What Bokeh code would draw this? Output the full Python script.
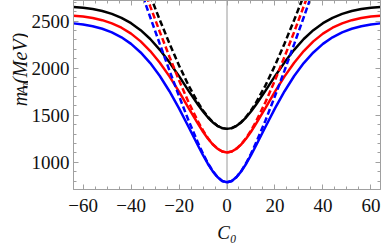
import math
from bokeh.plotting import figure
from bokeh.layouts import row
from bokeh.models import FixedTicker, LinearAxis, Span, Label, Range1d, CustomJSTickFormatter
from bokeh.embed import file_html
from bokeh.resources import INLINE

# ---- data ----
c0_solid = [-64, -60, -56, -52, -48, -44, -40, -36, -32, -28, -24, -20, -16, -12, -10, -8, -6, -4, -2, 0,
            2, 4, 6, 8, 10, 12, 16, 20, 24, 28, 32, 36, 40, 44, 48, 52, 56, 60, 64]
m_black_solid = [2650, 2641, 2628, 2607, 2577, 2535, 2478, 2404, 2310, 2195, 2062, 1915, 1759, 1608, 1539, 1478, 1426, 1388, 1363, 1355,
                 1363, 1388, 1426, 1478, 1539, 1608, 1759, 1915, 2062, 2195, 2310, 2404, 2478, 2535, 2577, 2607, 2628, 2641, 2650]
m_red_solid = [2558, 2548, 2533, 2510, 2476, 2430, 2367, 2285, 2182, 2058, 1913, 1750, 1576, 1405, 1325, 1253, 1192, 1145, 1115, 1105,
               1115, 1145, 1192, 1253, 1325, 1405, 1576, 1750, 1913, 2058, 2182, 2285, 2367, 2430, 2476, 2510, 2533, 2548, 2558]
m_blue_solid = [2476, 2464, 2446, 2419, 2381, 2328, 2258, 2167, 2054, 1917, 1755, 1573, 1375, 1173, 1075, 985, 906, 843, 802, 788,
                802, 843, 906, 985, 1075, 1173, 1375, 1573, 1755, 1917, 2054, 2167, 2258, 2328, 2381, 2419, 2446, 2464, 2476]

c0_dashed = [-40, -36, -32, -28, -24, -20, -16, -12, -10, -8, -6, -4, -2, 0,
             2, 4, 6, 8, 10, 12, 16, 20, 24, 28, 32, 36, 40]
m_black_dashed = [3310, 3037, 2770, 2511, 2263, 2029, 1815, 1630, 1551, 1484, 1429, 1388, 1363, 1355,
                  1363, 1388, 1429, 1484, 1551, 1630, 1815, 2029, 2263, 2511, 2770, 3037, 3310]
m_red_dashed = [3216, 2934, 2657, 2385, 2122, 1871, 1637, 1429, 1338, 1259, 1194, 1146, 1115, 1105,
                1115, 1146, 1194, 1259, 1338, 1429, 1637, 1871, 2122, 2385, 2657, 2934, 3216]
m_blue_dashed = [3121, 2830, 2541, 2256, 1976, 1703, 1442, 1201, 1091, 993, 909, 844, 802, 788,
                 802, 844, 909, 993, 1091, 1201, 1442, 1703, 1976, 2256, 2541, 2830, 3121]

x_ticks = [-60, -40, -20, 0, 20, 40, 60]
x_tick_labels = ["\u221260", "\u221240", "\u221220", "0", "20", "40", "60"]
y_ticks = [1000, 1500, 2000, 2500]
y_tick_labels = ["1000", "1500", "2000", "2500"]

# ---- styling ----
FONT = "Liberation Serif"
FRAME = "#a0a0a0"
LW = 2.5
W, H = 382, 245
STRIP = 28                          # width of the strip holding the y title
FL, FR, FT, FB = 73, 380, 0, 190   # frame edges in page pixels
Y0, Y1 = 711, 2719
X0, X1 = -64, 64

p = figure(width=W - STRIP, height=H, output_backend="svg", toolbar_location=None,
           x_range=Range1d(X0, X1), y_range=Range1d(Y0, Y1),
           min_border_left=FL - STRIP, min_border_right=W - FR, min_border_top=FT, min_border_bottom=H - FB)
p.xgrid.visible = False
p.ygrid.visible = False
p.outline_line_color = FRAME
p.background_fill_color = "white"
p.border_fill_color = "white"

xticker = FixedTicker(ticks=x_ticks, minor_ticks=list(range(-65, 66, 5)))
yticker = FixedTicker(ticks=y_ticks, minor_ticks=list(range(800, 2800, 100)))


def style_axis(ax):
    ax.axis_line_color = FRAME
    ax.major_tick_line_color = FRAME
    ax.minor_tick_line_color = FRAME
    ax.major_tick_in = 5
    ax.major_tick_out = 0
    ax.minor_tick_in = 3
    ax.minor_tick_out = 0
    ax.major_label_text_font = FONT
    ax.major_label_text_font_size = "19px"
    ax.major_label_text_color = "#111111"


xa = p.xaxis[0]
xa.ticker = xticker
xa.major_label_overrides = dict(zip(x_ticks, x_tick_labels))
xa.major_label_standoff = 9
style_axis(xa)
xa.axis_label = "C\u2080"
xa.axis_label_text_font = FONT
xa.axis_label_text_font_style = "italic"
xa.axis_label_text_font_size = "19px"
xa.axis_label_text_color = "#111111"
xa.axis_label_standoff = 7

ya = p.yaxis[0]
ya.ticker = yticker
ya.major_label_overrides = dict(zip(y_ticks, y_tick_labels))
ya.major_label_standoff = 4
style_axis(ya)

blank = CustomJSTickFormatter(code="return ''")
top = LinearAxis(ticker=xticker, formatter=blank, major_label_standoff=0)
style_axis(top)
p.add_layout(top, "above")
right = LinearAxis(ticker=yticker, formatter=blank, major_label_standoff=0)
style_axis(right)
p.add_layout(right, "right")

p.add_layout(Span(location=0, dimension="height", line_color="#9a9a9a", line_width=1, level="underlay"))

# solid curves
p.line(c0_solid, m_black_solid, line_color="black", line_width=LW)
p.line(c0_solid, m_red_solid, line_color="#ff0000", line_width=LW)
p.line(c0_solid, m_blue_solid, line_color="#0000ff", line_width=LW)
# dashed curves
p.line(c0_dashed, m_black_dashed, line_color="black", line_width=LW, line_dash="6 3")
p.line(c0_dashed, m_red_dashed, line_color="#ff0000", line_width=LW, line_dash="6 3")
p.line(c0_dashed, m_blue_dashed, line_color="#0000ff", line_width=LW, line_dash="6 3")

# ---- y title in a narrow strip figure on the left (coordinates = page pixels) ----
t = figure(width=STRIP, height=H, output_backend="svg", toolbar_location=None,
           x_range=Range1d(0, STRIP), y_range=Range1d(0, H), x_axis_type=None, y_axis_type=None,
           min_border_left=0, min_border_right=0, min_border_top=0, min_border_bottom=0)
t.xgrid.visible = False
t.ygrid.visible = False
t.outline_line_color = None
t.background_fill_color = "white"
t.border_fill_color = "white"

ang = math.pi / 2
common = dict(text_font=FONT, text_font_style="italic", text_baseline="alphabetic",
              text_align="left", text_color="#111111", angle=ang)
t.add_layout(Label(x=19, y=H - 137, text="m", text_font_size="20px", **common))
t.add_layout(Label(x=22, y=H - 121.5, text="A", text_font_size="14px", **common))
t.add_layout(Label(x=24, y=H - 113, text="n", text_font_size="10px", **common))
t.add_layout(Label(x=19, y=H - 108, text="(MeV)", text_font_size="20px", **common))

layout = row(t, p, spacing=0)
open("out.html", "w").write(file_html(layout, INLINE))
